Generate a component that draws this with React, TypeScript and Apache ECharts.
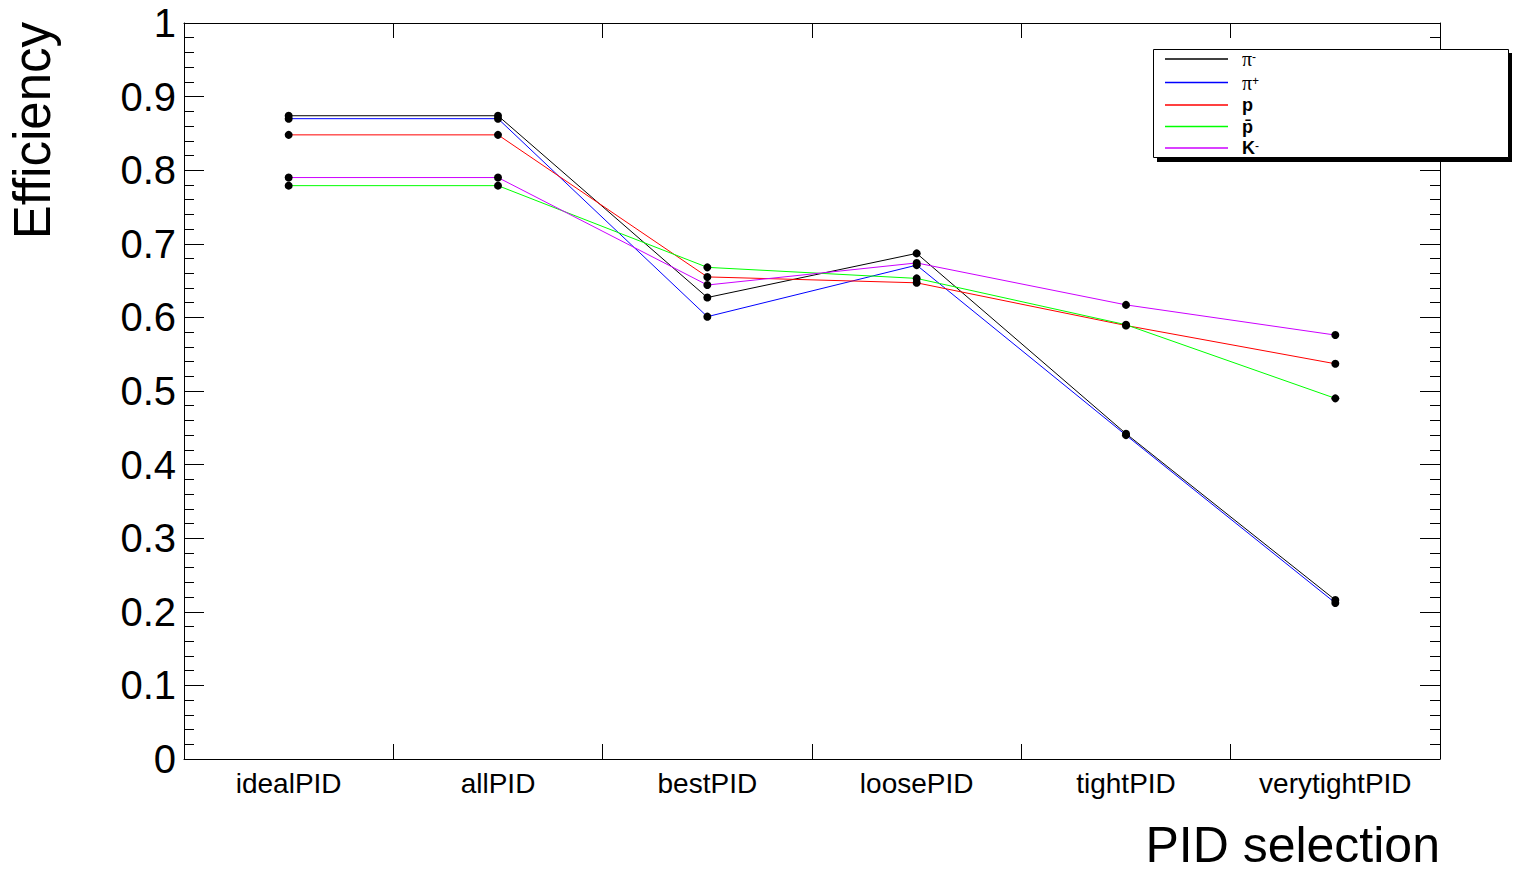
import React, { useEffect, useRef } from 'react';
import * as echarts from 'echarts';

const categories = ['idealPID', 'allPID', 'bestPID', 'loosePID', 'tightPID', 'verytightPID'];
const seriesNames = ['π-', 'π+', 'p', 'p̄', 'K-'];
const piMinus = [0.874, 0.874, 0.627, 0.687, 0.442, 0.216];
const piPlus = [0.870, 0.870, 0.601, 0.671, 0.440, 0.212];
const proton = [0.848, 0.848, 0.655, 0.647, 0.589, 0.537];
const antiProton = [0.779, 0.779, 0.668, 0.653, 0.590, 0.490];
const kMinus = [0.790, 0.790, 0.644, 0.674, 0.617, 0.576];
const seriesValues = [piMinus, piPlus, proton, antiProton, kMinus];
const colors = ['#000000', '#0000ff', '#ff0000', '#00ff00', '#cc00ff'];
const legendLabels: Record<string, string> = {
  'π-': '{sp| }{pi|π}{sup|-}',
  'π+': '{sp| }{pi|π}{sup|+}',
  'p': '{sp| }{b|p}',
  'p̄': '{sp| }{b|p̄}',
  'K-': '{sp| }{b|K}{sup|-}',
};

const FONT = '"Liberation Sans", Arial, Helvetica, sans-serif';

export default function App() {
  const ref = useRef<HTMLDivElement>(null);
  useEffect(() => {
    if (!ref.current) return;
    const chart = echarts.init(ref.current, undefined, { renderer: 'svg' });
    const yAxisCommon = {
      type: 'value',
      min: 0,
      max: 1,
      interval: 0.1,
      splitLine: { show: false },
      axisLine: { show: true, onZero: false, lineStyle: { color: '#000', width: 1 } },
      axisTick: { show: true, inside: true, length: 20, lineStyle: { color: '#000' } },
      minorTick: { show: true, splitNumber: 5, length: 10, lineStyle: { color: '#000' } },
      minorSplitLine: { show: false },
    };
    const xAxisCommon = {
      type: 'category',
      data: categories,
      boundaryGap: true,
      axisLine: { show: true, onZero: false, lineStyle: { color: '#000', width: 1 } },
      axisTick: { show: true, inside: true, length: 15, alignWithLabel: false, lineStyle: { color: '#000' } },
      splitLine: { show: false },
    };
    chart.setOption({
      animation: false,
      backgroundColor: '#fff',
      grid: { left: 184, top: 23, right: 74, bottom: 114, containLabel: false, outerBoundsMode: 'none' },
      xAxis: [
        {
          ...xAxisCommon,
          position: 'bottom',
          axisLabel: { show: true, color: '#000', fontFamily: FONT, fontSize: 28, margin: 10, interval: 0 },
          name: 'PID selection',
          nameLocation: 'end',
          nameGap: 0,
          nameTextStyle: {
            fontFamily: FONT,
            fontSize: 50,
            color: '#000',
            align: 'right',
            verticalAlign: 'top',
            padding: [61, 0, 0, 0],
          },
        },
        {
          ...xAxisCommon,
          position: 'top',
          axisLabel: { show: false },
        },
      ],
      yAxis: [
        {
          ...yAxisCommon,
          position: 'left',
          axisLabel: {
            show: true,
            color: '#000',
            fontFamily: FONT,
            fontSize: 40,
            margin: 8,
            formatter: (v: number) => String(Math.round(v * 10) / 10),
          },
          name: 'Efficiency',
          nameLocation: 'end',
          nameRotate: 90,
          nameGap: 1,
          nameTextStyle: {
            fontFamily: FONT,
            fontSize: 51,
            color: '#000',
            align: 'right',
            verticalAlign: 'bottom',
            padding: [0, 0, 126, 0],
          },
        },
        {
          ...yAxisCommon,
          position: 'right',
          axisLabel: { show: false },
        },
      ],
      legend: {
        orient: 'vertical',
        left: 1165,
        top: 49,
        padding: 0,
        itemWidth: 63,
        itemHeight: 16,
        itemGap: 3.5,
        selectedMode: false,
        z: 6,
        icon: 'path://M0,0H63V1.5H0Z',
        data: seriesNames.map((n, i) => ({ name: n, itemStyle: { color: colors[i] } })),
        formatter: (name: string) => legendLabels[name] || name,
        textStyle: {
          fontFamily: FONT,
          fontSize: 17,
          lineHeight: 16,
          color: '#000',
          rich: {
            sp: { width: 9, fontSize: 16, lineHeight: 16 },
            pi: { fontFamily: '"Liberation Serif", "DejaVu Serif", serif', fontSize: 20, lineHeight: 16, color: '#000' },
            sup: { fontFamily: FONT, fontSize: 12, lineHeight: 16, verticalAlign: 'top', color: '#000' },
            b: { fontFamily: FONT, fontSize: 18, lineHeight: 16, fontWeight: 'bold', color: '#000' },
          },
        },
      },
      graphic: [
        {
          type: 'rect',
          z: 3,
          shape: { x: 1157, y: 53, width: 355, height: 109 },
          style: { fill: '#000' },
        },
        {
          type: 'rect',
          z: 4,
          shape: { x: 1153.5, y: 49.5, width: 355, height: 108 },
          style: { fill: '#fff', stroke: '#000', lineWidth: 1 },
        },
      ],
      series: seriesNames.map((name, i) => ({
        type: 'line',
        name,
        data: seriesValues[i],
        xAxisIndex: 0,
        yAxisIndex: 0,
        symbol: 'circle',
        symbolSize: 8,
        showSymbol: true,
        lineStyle: { color: colors[i], width: 1 },
        itemStyle: { color: '#000' },
        emphasis: { disabled: true },
        z: 2,
      })),
    });
    return () => chart.dispose();
  }, []);
  return <div ref={ref} style={{ position: 'absolute', left: 0, top: 0, width: 1514, height: 873 }} />;
}
